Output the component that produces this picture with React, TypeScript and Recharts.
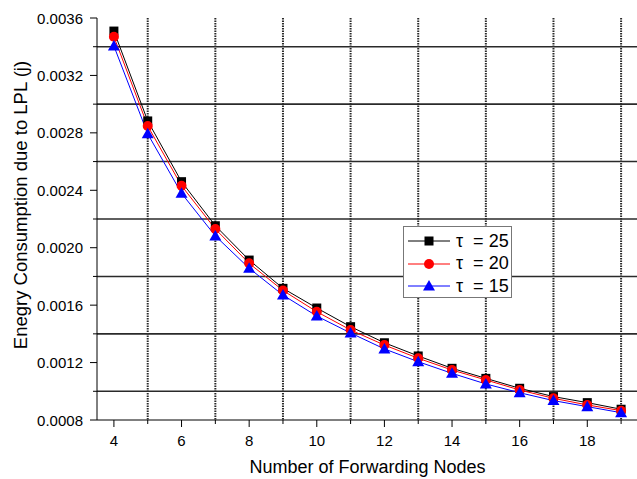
import { LineChart, Line, XAxis, YAxis, CartesianGrid, Legend } from 'recharts';

const nodes = [4, 5, 6, 7, 8, 9, 10, 11, 12, 13, 14, 15, 16, 17, 18, 19];
const tau25 = [0.003509, 0.002883, 0.00246, 0.002153, 0.001914, 0.001717, 0.00158, 0.00145, 0.001338, 0.001246, 0.00116, 0.00109, 0.001021, 0.000963, 0.000921, 0.000875];
const tau20 = [0.00347, 0.002848, 0.002432, 0.00213, 0.001891, 0.001702, 0.001554, 0.001427, 0.001322, 0.00123, 0.001148, 0.001079, 0.001009, 0.000951, 0.000905, 0.000865];
const tau15 = [0.003405, 0.002793, 0.002379, 0.002082, 0.001857, 0.00167, 0.001524, 0.001406, 0.001295, 0.001206, 0.001125, 0.001051, 0.00099, 0.000935, 0.000893, 0.000851];

const xTicks = [4, 6, 8, 10, 12, 14, 16, 18];
const xAllTicks = [4, 5, 6, 7, 8, 9, 10, 11, 12, 13, 14, 15, 16, 17, 18, 19];
const xGrid = [5, 7, 9, 11, 13, 15, 17, 19];
const yTicks = [0.0008, 0.0012, 0.0016, 0.002, 0.0024, 0.0028, 0.0032, 0.0036];
const yAllTicks = [0.0008, 0.001, 0.0012, 0.0014, 0.0016, 0.0018, 0.002, 0.0022, 0.0024, 0.0026, 0.0028, 0.003, 0.0032, 0.0034, 0.0036];
const yGrid = [0.001, 0.0014, 0.0018, 0.0022, 0.0026, 0.003, 0.0034];

const series = [
  { key: 't25', label: '= 25', color: '#000000', shape: 'square' },
  { key: 't20', label: '= 20', color: '#ff0000', shape: 'circle' },
  { key: 't15', label: '= 15', color: '#0000ff', shape: 'triangle' },
];

const data = nodes.map((n, i) => ({ n, t25: tau25[i], t20: tau20[i], t15: tau15[i] }));

const font = '"Liberation Sans", Arial, sans-serif';
const MAJOR = 7;
const MINOR = 4;
const X_GAP = 8;
const Y_GAP = 7;

const isMajorX = (v: number) => xTicks.includes(v);
const isMajorY = (v: number) => yTicks.some((t) => Math.abs(t - v) < 1e-9);

// bottom axis tick: long tick + label on even values, short tick on odd values
const XTick = (p: any) => {
  const v = p.payload.value;
  const axisY = p.y - MAJOR - X_GAP;
  const major = isMajorX(v);
  return (
    <g>
      <line x1={p.x} y1={axisY} x2={p.x} y2={axisY + (major ? MAJOR : MINOR)} stroke="#000" />
      {major && (
        <text x={p.x} y={axisY + MAJOR + X_GAP} textAnchor="middle" dominantBaseline="hanging" fill="#000" fontSize={15} fontFamily={font}>
          {v}
        </text>
      )}
    </g>
  );
};

const YTick = (p: any) => {
  const v = p.payload.value;
  const axisX = p.x + MAJOR + Y_GAP;
  const major = isMajorY(v);
  return (
    <g>
      <line x1={axisX} y1={p.y} x2={axisX - (major ? MAJOR : MINOR)} y2={p.y} stroke="#000" />
      {major && (
        <text x={axisX - MAJOR - Y_GAP} y={p.y} textAnchor="end" dominantBaseline="central" fill="#000" fontSize={15} fontFamily={font}>
          {v.toFixed(4)}
        </text>
      )}
    </g>
  );
};

const Marker = ({ cx, cy, shape, color }: any) => {
  if (cx == null || cy == null) return null;
  if (shape === 'square') return <rect x={cx - 4.5} y={cy - 4.5} width={9} height={9} fill={color} />;
  if (shape === 'circle') return <circle cx={cx} cy={cy} r={5} fill={color} />;
  return <polygon points={`${cx},${cy - 6} ${cx + 6},${cy + 4.5} ${cx - 6},${cy + 4.5}`} fill={color} />;
};

const renderLegend = () => (
  <div
    style={{
      width: 109,
      height: 72,
      border: '1px solid #777',
      background: '#fff',
      fontFamily: font,
      fontSize: 18,
      boxSizing: 'border-box',
      paddingTop: 3,
    }}
  >
    {series.map((s) => (
      <div key={s.key} style={{ display: 'flex', alignItems: 'center', height: 22.5 }}>
        <svg width={50} height={16}>
          <line x1={4} y1={8} x2={46} y2={8} stroke={s.color} strokeWidth={1} />
          <Marker cx={25} cy={8} shape={s.shape} color={s.color} />
        </svg>
        <span style={{ marginLeft: 2, whiteSpace: 'pre' }}>{'τ  ' + s.label}</span>
      </div>
    ))}
  </div>
);

const App = () => {
  return (
    <div style={{ position: 'absolute', left: 0, top: 0 }}>
      <LineChart width={645} height={479} data={data} margin={{ top: 18, right: 7, bottom: 0, left: 0 }}>
        <CartesianGrid horizontal={true} vertical={false} horizontalValues={yGrid} stroke="#2a2a2a" strokeWidth={1.6} />
        <CartesianGrid horizontal={false} vertical={true} verticalValues={xGrid} stroke="#2a2a2a" strokeWidth={2} strokeDasharray="1.5 1" />
        <XAxis
          dataKey="n"
          type="number"
          domain={[3.5, 19.5]}
          ticks={xAllTicks}
          interval={0}
          height={59}
          stroke="#000"
          tickLine={false}
          tickSize={MAJOR}
          tickMargin={X_GAP}
          tick={<XTick />}
          label={{ value: 'Number of Forwarding Nodes', position: 'insideBottom', offset: 6, fill: '#000', fontSize: 18, fontFamily: font }}
        />
        <XAxis
          xAxisId="top"
          dataKey="n"
          type="number"
          orientation="top"
          domain={[3.5, 19.5]}
          ticks={xTicks}
          height={0}
          mirror
          tick={false}
          tickSize={MAJOR}
          stroke="#000"
        />
        <YAxis
          type="number"
          domain={[0.0008, 0.0036]}
          ticks={yAllTicks}
          interval={0}
          width={97}
          stroke="#000"
          tickLine={false}
          tickSize={MAJOR}
          tickMargin={Y_GAP}
          tick={<YTick />}
          label={{
            content: () => (
              <text x={20} y={205} transform="rotate(-90 20 205)" textAnchor="middle" dominantBaseline="central" fill="#000" fontSize={18.5} fontFamily={font}>
                Enegry Consumption due to LPL (j)
              </text>
            ),
          }}
        />
        <YAxis
          yAxisId="right"
          orientation="right"
          type="number"
          domain={[0.0008, 0.0036]}
          ticks={yTicks}
          width={0}
          mirror
          tick={false}
          tickSize={MAJOR}
          stroke="#000"
        />
        {series.map((s) => (
          <Line
            key={s.key}
            dataKey={s.key}
            stroke={s.color}
            strokeWidth={1}
            isAnimationActive={false}
            dot={(p: any) => <Marker key={`${s.key}-${p.index}`} cx={p.cx} cy={p.cy} shape={s.shape} color={s.color} />}
            activeDot={false}
          />
        ))}
        <Legend
          layout="vertical"
          align="center"
          verticalAlign="middle"
          content={renderLegend}
          wrapperStyle={{ position: 'absolute', left: 403, top: 226, width: 109, height: 72 }}
        />
      </LineChart>
    </div>
  );
};

export default App;
